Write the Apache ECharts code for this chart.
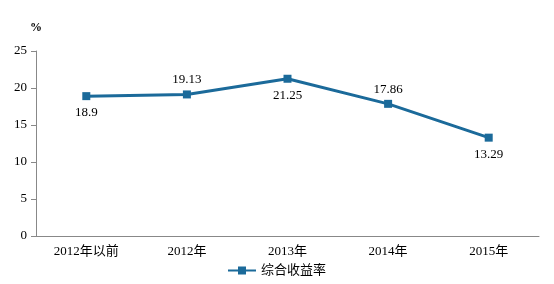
<!DOCTYPE html>
<html><head><meta charset="utf-8">
<script src="https://cdn.jsdelivr.net/npm/echarts@6/dist/echarts.min.js"></script>
<style>html,body{margin:0;padding:0;background:#fff}#c{width:554px;height:284px}</style>
</head><body><div id="c"></div>
<script>
const categories = ['2012年以前','2012年','2013年','2014年','2015年'];
const values = [18.9, 19.13, 21.25, 17.86, 13.29];
const labelPos = ['bottom','top','bottom','top','bottom'];
const seriesName = '综合收益率';
const font = '"Liberation Serif","Times New Roman","Noto Sans CJK SC",serif';
const chart = echarts.init(document.getElementById('c'));
chart.setOption({
  animation:false,
  grid:{left:36,right:15,top:51,bottom:48},
  legend:{bottom:2,left:'center',itemWidth:28,itemHeight:8,itemGap:6,
    textStyle:{fontFamily:font,fontSize:13,color:'#000'},
    data:[{name:seriesName,icon:'path://M0,3L10,3L10,0L18,0L18,3L28,3L28,5L18,5L18,8L10,8L10,5L0,5Z'}]},
  xAxis:{type:'category',data:categories,boundaryGap:true,
    axisLine:{lineStyle:{color:'#888'}},axisTick:{lineStyle:{color:'#888'},length:5},
    axisLabel:{fontFamily:font,fontSize:13,color:'#000',margin:9}},
  yAxis:{type:'value',min:0,max:25,interval:5,name:'%',
    nameLocation:'end',nameGap:17,nameTextStyle:{fontFamily:font,fontSize:12,color:'#000',fontWeight:'bold',align:'center'},
    axisLine:{show:true,lineStyle:{color:'#888'}},axisTick:{show:true,lineStyle:{color:'#888'},length:5},
    splitLine:{show:false},
    axisLabel:{fontFamily:font,fontSize:13,color:'#000',margin:9}},
  series:[{name:seriesName,type:'line',
    data:values.map((v,i)=>({value:v,label:{position:labelPos[i],distance:labelPos[i]==='top'?4:6}})),
    symbol:'rect',symbolSize:8,
    lineStyle:{color:'#1B6A9A',width:3},
    itemStyle:{color:'#1B6A9A'},
    label:{show:true,fontFamily:font,fontSize:13,color:'#000'}}]
});
</script></body></html>
